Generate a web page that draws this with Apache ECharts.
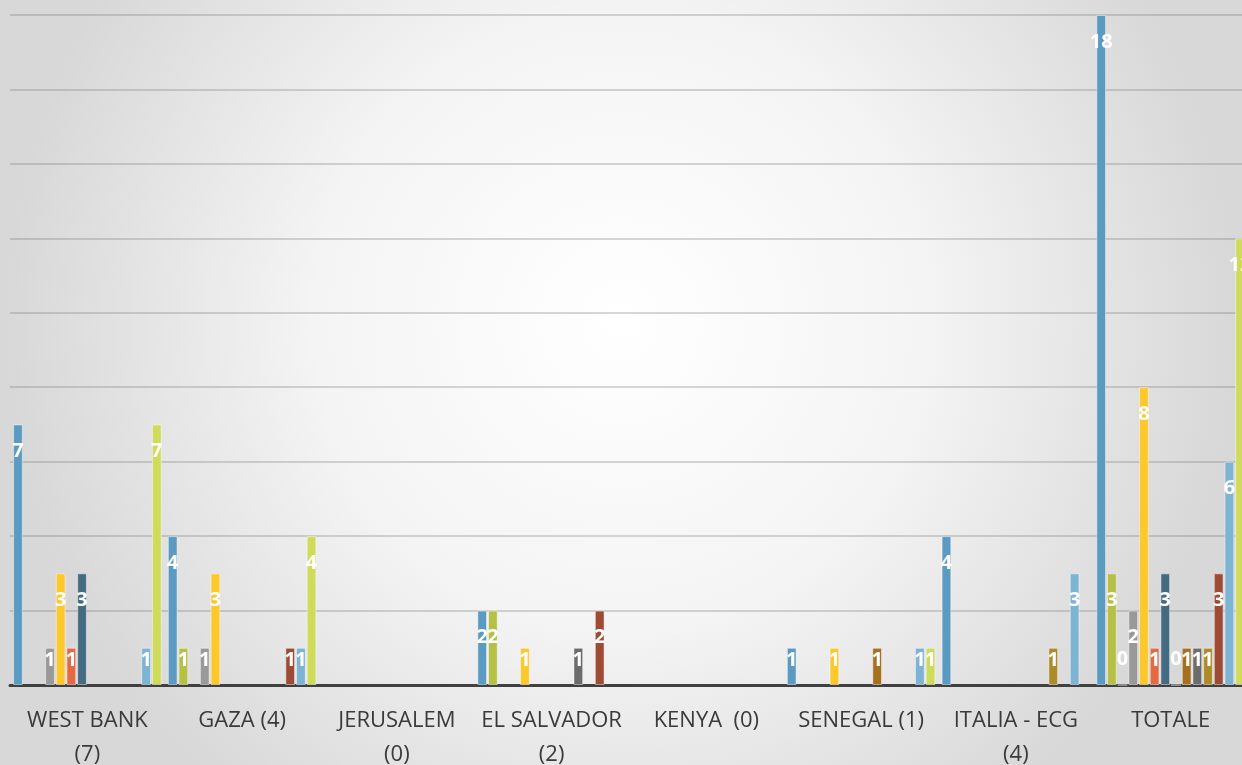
<!DOCTYPE html>
<html>
<head>
<meta charset="utf-8">
<script src="https://cdn.jsdelivr.net/npm/echarts@6/dist/echarts.min.js"></script>
<style>
  html, body { margin: 0; padding: 0; }
  #chart { width: 1242px; height: 765px; }
</style>
</head>
<body>
<div id="chart"></div>
<script>
var categories = ["WEST BANK\n(7)", "GAZA (4)", "JERUSALEM\n(0)", "EL SALVADOR\n(2)", "KENYA  (0)", "SENEGAL (1)", "ITALIA - ECG\n(4)", "TOTALE"];

// one array per series, null = empty cell
var s1  = [7, 4, null, 2, null, 1, 4, 18];
var s2  = [null, 1, null, 2, null, null, null, 3];
var s3  = [null, null, null, null, null, null, null, 0];
var s4  = [1, 1, null, null, null, null, null, 2];
var s5  = [3, 3, null, 1, null, 1, null, 8];
var s6  = [1, null, null, null, null, null, null, 1];
var s7  = [3, null, null, null, null, null, null, 3];
var s8  = [null, null, null, null, null, null, null, 0];
var s9  = [null, null, null, null, null, 1, null, 1];
var s10 = [null, null, null, 1, null, null, null, 1];
var s11 = [null, null, null, null, null, null, 1, 1];
var s12 = [null, 1, null, 2, null, null, null, 3];
var s13 = [1, 1, null, null, null, 1, 3, 6];
var s14 = [7, 4, null, null, null, 1, null, 12];

var allSeries = [s1, s2, s3, s4, s5, s6, s7, s8, s9, s10, s11, s12, s13, s14];
var colors = ["#5b9bc1", "#b5c045", "#8fb8d6", "#999999", "#fcc82b", "#e36a42", "#456b82",
              "#7f9fb5", "#a5701f", "#6c6c6c", "#ab8c28", "#9d4b34", "#7db3d3", "#cfdc5b"];

var myChart = echarts.init(document.getElementById("chart"));

function itemLabel(v) {
  if (v === 0) return { position: "top", distance: 15 };
  if (v === 1) return { position: "insideTop", distance: 3 };
  return { position: "insideTop", distance: 17 };
}

var series = allSeries.map(function (arr, i) {
  return {
    name: "Serie " + (i + 1),
    type: "bar",
    barGap: "10%",
    barCategoryGap: "4%",
    itemStyle: {
      color: colors[i],
      borderColor: "rgba(255,255,255,0.45)",
      borderWidth: 1
    },
    label: {
      show: true,
      color: "#ffffff",
      fontFamily: "Open Sans",
      fontWeight: "bold",
      fontSize: 20
    },
    data: arr.map(function (v) {
      if (v === null) return null;
      return { value: v, label: itemLabel(v) };
    })
  };
});

myChart.setOption({
  backgroundColor: {
    type: "radial",
    x: 0.5,
    y: 0.42,
    r: 0.8,
    colorStops: [
      { offset: 0, color: "#ffffff" },
      { offset: 0.5, color: "#f4f4f4" },
      { offset: 1, color: "#d8d8d8" }
    ]
  },
  animation: false,
  grid: {
    left: 10,
    right: -6,
    top: 15,
    bottom: 80,
    outerBoundsMode: "none"
  },
  xAxis: {
    type: "category",
    data: categories,
    axisLine: { lineStyle: { color: "#404040", width: 3 } },
    axisTick: { show: false },
    axisLabel: {
      interval: 0,
      margin: 19,
      color: "#3a3a3a",
      fontFamily: "Open Sans",
      fontSize: 22,
      lineHeight: 34
    }
  },
  yAxis: {
    type: "value",
    min: 0,
    max: 18,
    interval: 2,
    axisLabel: { show: false },
    axisLine: { show: false },
    axisTick: { show: false },
    splitLine: { lineStyle: { color: "rgba(120,120,120,0.4)", width: 1.5 } }
  },
  series: series
});
</script>
</body>
</html>
